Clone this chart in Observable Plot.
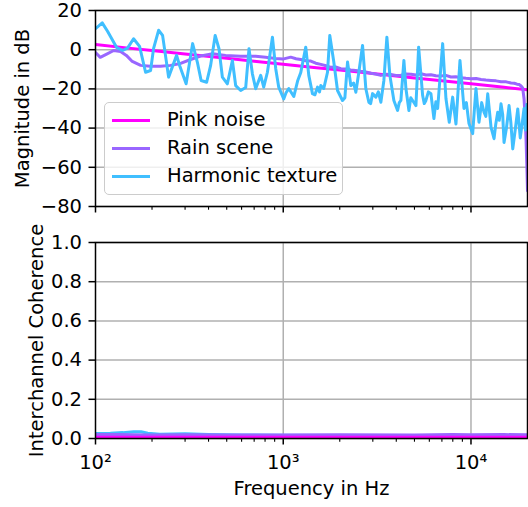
<!DOCTYPE html>
<html>
<head>
<meta charset="utf-8">
<script src="https://cdn.jsdelivr.net/npm/d3@7"></script>
<script src="https://cdn.jsdelivr.net/npm/@observablehq/plot@0.6"></script>
<style>
html, body { margin: 0; padding: 0; background: #fff; }
#chart { position: relative; width: 528px; height: 507px; font-family: "DejaVu Sans", sans-serif; }
#chart svg { display: block; overflow: visible; }
#legend { position: absolute; left: 104px; top: 102px; width: 239px; height: 93px; box-sizing: border-box;
  border: 1.5px solid #cccccc; border-radius: 5px; background: rgba(255,255,255,0.8); }
#legend .sw { position: absolute; left: 7px; width: 38px; height: 3px; }
#legend .lb { position: absolute; left: 62px; font-size: 19.5px; line-height: 22px; color: #000; white-space: nowrap; }
</style>
</head>
<body>
<div id="chart"><div id="top"></div><div id="bottom"></div><div id="legend"></div></div>
<script>
// ---------- data ----------
const seriesNames = ["Pink noise", "Rain scene", "Harmonic texture"];
const seriesColors = ["#ff00ff", "#9966ff", "#40bfff"];

const xMajorTicks = [100, 1000, 10000];
const xMinorTicks = [200, 300, 400, 500, 600, 700, 800, 900, 2000, 3000, 4000, 5000, 6000, 7000, 8000, 9000];
const xTickLabels = ["10²", "10³", "10⁴"];
const yTicksMag = [20, 0, -20, -40, -60, -80];
const yTicksCoh = [0, 0.2, 0.4, 0.6, 0.8, 1.0];

// Magnitude (dB)
const pinkFreq = [100, 150, 200, 300, 500, 700, 1000, 1500, 2000, 3000, 5000, 7000, 10000, 15000, 20000];
const pinkDb = [2.6, 0.8, -0.4, -2.2, -4.4, -5.9, -7.4, -9.2, -10.4, -12.2, -14.4, -15.9, -17.4, -19.2, -20.4];

const rainFreq = [100, 106, 114, 125, 136, 146, 157, 174, 196, 222, 251, 284, 321, 363, 421, 493, 593, 713, 806, 912,
  994, 1096, 1170, 1240, 1320, 1402, 1490, 1585, 1690, 1792, 1900, 2026, 2150, 2291, 2430, 2590, 2750, 2929, 3100, 3311,
  3520, 3744, 3980, 4234, 4500, 4786, 5090, 5412, 5760, 6118, 6500, 6918, 7350, 7822, 8300, 8844, 9400, 10000, 10650, 11310,
  12000, 12790, 13600, 14450, 15400, 16340, 17000, 17590, 18100, 18480, 18850, 19170, 19450, 19650, 19850, 20000];
const rainDb = [-1.4, -3.9, -2.4, -0.4, -0.9, -2.9, -6.0, -8.0, -8.5, -8.5, -8.0, -7.0, -5.0, -3.2, -2.1, -2.9, -3.4, -3.4, -3.9, -4.5,
  -4.8, -3.8, -4.6, -5.0, -5.6, -5.8, -6.9, -7.5, -8.2, -9.0, -8.8, -9.7, -9.9, -10.3, -10.6, -11.0, -11.3, -12.0, -12.4, -13.1,
  -12.5, -12.6, -13.2, -13.0, -12.4, -12.5, -12.9, -12.3, -12.9, -12.8, -13.3, -13.4, -13.1, -13.9, -13.8, -14.3, -14.6, -14.8, -14.7, -15.2,
  -15.5, -15.7, -15.9, -16.3, -16.4, -17.0, -17.1, -17.6, -17.8, -18.5, -19.5, -25.0, -35.0, -46.0, -60.0, -72.0];

const harmFreq = [100, 108.6, 115.9, 129.4, 139.3, 148.1, 159.5, 171.7, 184.8, 196.5,
  203.9, 216.8, 227.7, 245.1, 270.4, 280.5, 303.9, 329.1, 348.6, 365.3,
  390.8, 410.5, 433.9, 454.7, 474, 504, 535.9, 558, 593.4, 631,
  657.1, 685, 713.3, 758.6, 787, 823.6, 875.8, 912, 946.2, 1006,
  1035, 1070, 1138, 1195, 1240, 1318, 1368, 1431, 1475, 1522,
  1560, 1585, 1644, 1721, 1770, 1859, 1946, 2069, 2130, 2200,
  2291, 2370, 2436, 2527, 2645, 2754, 2858, 2920, 2991, 3115,
  3210, 3311, 3436, 3565, 3698, 3884, 4065, 4150, 4234, 4392,
  4502, 4671, 4780, 4888, 5091, 5262, 5527, 5640, 5754, 5930,
  6118, 6348, 6500, 6645, 7065, 7356, 7661, 7987, 8318, 8736,
  9177, 9450, 9757, 10210, 10400, 10630, 11030, 11400, 11730, 12000,
  12280, 12790, 13270, 13550, 13880, 14150, 14450, 14750, 15000, 15450,
  15950, 16300, 16690, 17200, 17750, 18300, 18870, 19170, 19500, 19800,
  20000];
const harmDb = [10.7, 13.7, 9.4, 1.2, -0.4, 0.8, 5.6, 1.7, -11.5, -10.6,
  0.7, 9.9, 7.3, -14.0, -2.9, -8.0, -17.4, 3.1, -6.3, -15.7,
  -16.6, -8.0, 7.3, 0.5, -14.0, -17.4, -5.5, -18.3, -20.8, -19.3,
  0.5, -12.3, -19.9, -13.1, -19.1, -11.5, 6.4, -9.7, -19.1, -25.1,
  -22.0, -19.8, -23.9, -15.7, -11.6, 1.3, -13.1, -22.4, -23.0, -19.1,
  -21.5, -18.3, -19.8, -11.5, 7.3, -6.3, -20.8, -25.9, -24.5, -6.3,
  -18.3, -17.0, -21.7, -11.5, 2.2, -19.9, -26.8, -27.5, -22.4, -24.2,
  -21.5, -26.8, -15.7, 6.4, -13.1, -25.9, -31.0, -27.0, -25.9, -5.5,
  -19.8, -31.0, -24.5, -25.9, -28.5, 1.3, -23.4, -27.5, -25.9, -21.5,
  -22.5, -35.1, -26.5, -30.0, 3.1, -24.9, -37.0, -24.2, -37.9, -5.5,
  -30.0, -27.0, -37.7, -42.8, -32.0, -19.8, -37.0, -27.0, -31.9, -34.0,
  -22.5, -39.6, -45.4, -38.0, -31.9, -36.0, -27.6, -33.0, -47.3, -40.0,
  -28.5, -37.0, -50.6, -41.0, -30.2, -45.0, -35.3, -30.0, -41.0, -28.0,
  -33.6];

// Interchannel coherence
const pinkCohFreq = [100, 300, 1000, 3000, 10000, 20000];
const pinkCoh = [0.007, 0.006, 0.006, 0.006, 0.006, 0.006];
const rainCohFreq = [100, 130, 160, 200, 300, 500, 1000, 2000, 5000, 8000, 10000, 15000, 20000];
const rainCoh = [0.02, 0.021, 0.019, 0.018, 0.019, 0.018, 0.018, 0.019, 0.018, 0.02, 0.019, 0.02, 0.019];
const harmCohFreq = [100, 120, 140, 160, 175, 190, 220, 300, 400, 600, 1000, 2000, 5000, 10000, 20000];
const harmCoh = [0.026, 0.027, 0.03, 0.035, 0.034, 0.027, 0.022, 0.024, 0.021, 0.018, 0.016, 0.015, 0.015, 0.015, 0.015];

// ---------- build ----------
const rows = (name, fs, vs) => fs.map((f, i) => ({name, f, v: vs[i]}));
const magSeries = [rows(seriesNames[0], pinkFreq, pinkDb), rows(seriesNames[1], rainFreq, rainDb), rows(seriesNames[2], harmFreq, harmDb)];
const cohSeries = [rows(seriesNames[0], pinkCohFreq, pinkCoh), rows(seriesNames[1], rainCohFreq, rainCoh), rows(seriesNames[2], harmCohFreq, harmCoh)];

const FS = 19.5;
const gridStyle = {stroke: "#b0b0b0", strokeOpacity: 1, strokeWidth: 1.5};
const fmtDb = d => d < 0 ? "\u2212" + Math.abs(d) : String(d);
const fmtX = d => xTickLabels[xMajorTicks.indexOf(d)];

const lineMark = (s, i) =>
  Plot.line(s, {x: "f", y: "v", stroke: seriesColors[i], strokeWidth: 3, clip: true, strokeLinejoin: "round"});

const common = {
  width: 528, marginLeft: 95, marginRight: 1,
  style: {fontFamily: "DejaVu Sans", fontSize: FS + "px", color: "black", background: "white", overflow: "visible"},
  x: {type: "log", domain: [100, 20000]}
};

const topPlot = Plot.plot({
  ...common,
  height: 216, marginTop: 10, marginBottom: 10,
  y: {domain: [-80, 20]},
  marks: [
    Plot.gridX({ticks: [1000, 10000], ...gridStyle}),
    Plot.gridY({ticks: yTicksMag, ...gridStyle}),
    ...magSeries.map(lineMark),
    Plot.frame({stroke: "black", strokeWidth: 1.5}),
    Plot.axisY({ticks: yTicksMag, tickSize: 6.5, tickPadding: 7, strokeWidth: 1.5, tickFormat: fmtDb, label: null, fontSize: FS}),
    Plot.axisX({ticks: xMajorTicks, tickSize: 6.5, strokeWidth: 1.5, tickFormat: () => "", label: null}),
    Plot.axisX({ticks: xMinorTicks, tickSize: 3.7, strokeWidth: 1.1, tickFormat: () => "", label: null}),
    Plot.text(["Magnitude in dB"], {text: d => d, frameAnchor: "left", dx: -73, rotate: -90, textAnchor: "middle", lineAnchor: "middle", fontSize: FS})
  ]
});

// bottom panel: draw harmonic first so the lower curves stay visible, as in the reference
const bottomPlot = Plot.plot({
  ...common,
  height: 291, marginTop: 26, marginBottom: 69,
  y: {domain: [0, 1]},
  marks: [
    Plot.gridX({ticks: [1000, 10000], ...gridStyle}),
    Plot.gridY({ticks: yTicksCoh, ...gridStyle}),
    lineMark(cohSeries[2], 2),
    lineMark(cohSeries[1], 1),
    lineMark(cohSeries[0], 0),
    Plot.frame({stroke: "black", strokeWidth: 1.5}),
    Plot.axisY({ticks: yTicksCoh, tickSize: 6.5, tickPadding: 7, strokeWidth: 1.5, tickFormat: d => d.toFixed(1), label: null, fontSize: FS}),
    Plot.axisX({ticks: xMajorTicks, tickSize: 6.5, tickPadding: 10.5, strokeWidth: 1.5, tickFormat: fmtX, label: null, fontSize: FS}),
    Plot.axisX({ticks: xMinorTicks, tickSize: 3.7, strokeWidth: 1.1, tickFormat: () => "", label: null}),
    Plot.text(["Interchannel Coherence"], {text: d => d, frameAnchor: "left", dx: -59, rotate: -90, textAnchor: "middle", lineAnchor: "middle", fontSize: FS}),
    Plot.text(["Frequency in Hz"], {text: d => d, frameAnchor: "bottom", dy: 50, textAnchor: "middle", lineAnchor: "middle", fontSize: FS})
  ]
});

document.getElementById("top").appendChild(topPlot);
document.getElementById("bottom").appendChild(bottomPlot);

// legend
const legend = document.getElementById("legend");
seriesNames.forEach((name, i) => {
  const cy = 17 + i * 28;
  const sw = document.createElement("div");
  sw.className = "sw";
  sw.style.top = (cy - 1.5) + "px";
  sw.style.background = seriesColors[i];
  legend.appendChild(sw);
  const lb = document.createElement("div");
  lb.className = "lb";
  lb.style.top = (cy - 11) + "px";
  lb.textContent = name;
  legend.appendChild(lb);
});
</script>
</body>
</html>
